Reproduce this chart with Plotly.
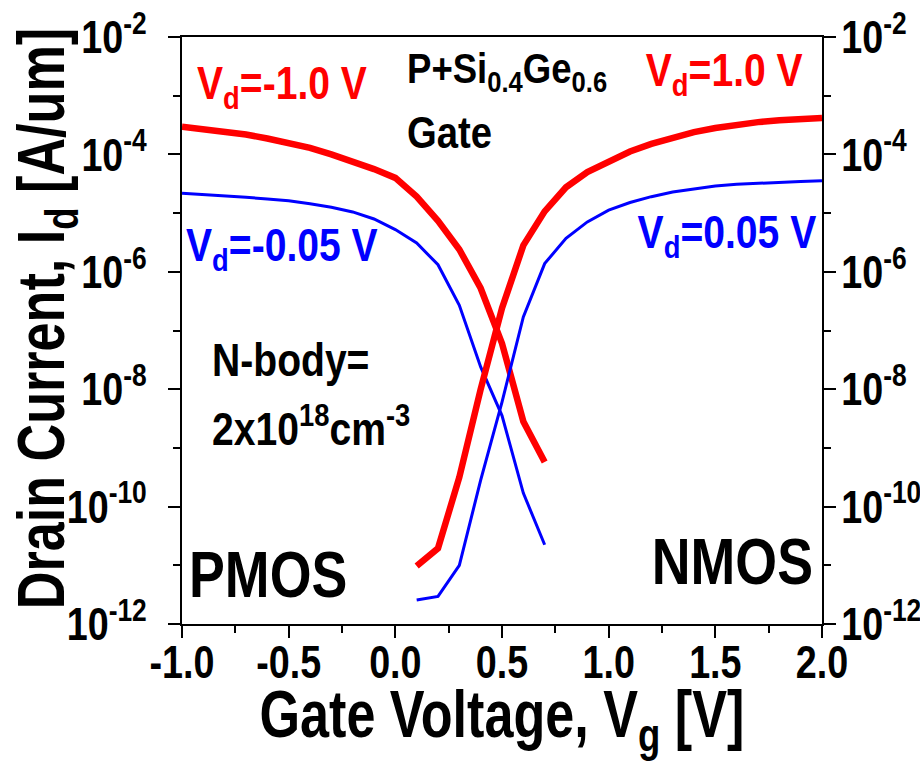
import plotly.graph_objects as go

# Gate voltage grids
vg_p = [-1.0, -0.9, -0.8, -0.7, -0.6, -0.5, -0.4, -0.3, -0.2, -0.1, 0.0, 0.1, 0.2, 0.3, 0.4, 0.5, 0.6, 0.7]
vg_n = [0.1, 0.2, 0.3, 0.4, 0.5, 0.6, 0.7, 0.8, 0.9, 1.0, 1.1, 1.2, 1.3, 1.4, 1.5, 1.6, 1.7, 1.8, 1.9, 2.0]

# log10(Id)
logid_p_vd1 = [-3.53, -3.57, -3.61, -3.66, -3.73, -3.80, -3.89, -4.00, -4.12, -4.25, -4.40, -4.72, -5.13, -5.62, -6.28, -7.22, -8.55, -9.24]
logid_p_vd005 = [-4.66, -4.68, -4.70, -4.73, -4.76, -4.79, -4.84, -4.90, -4.98, -5.10, -5.28, -5.51, -5.88, -6.57, -7.62, -8.45, -9.77, -10.65]
logid_n_vd1 = [-11.01, -10.71, -9.50, -8.00, -6.62, -5.55, -4.97, -4.56, -4.30, -4.12, -3.95, -3.82, -3.71, -3.62, -3.55, -3.49, -3.45, -3.42, -3.40, -3.38]
logid_n_vd005 = [-11.59, -11.53, -11.00, -9.55, -8.22, -6.77, -5.86, -5.43, -5.15, -4.95, -4.82, -4.72, -4.64, -4.59, -4.54, -4.51, -4.49, -4.47, -4.46, -4.45]

id_p_vd1 = [10 ** v for v in logid_p_vd1]
id_p_vd005 = [10 ** v for v in logid_p_vd005]
id_n_vd1 = [10 ** v for v in logid_n_vd1]
id_n_vd005 = [10 ** v for v in logid_n_vd005]

y_tick_vals = [1e-12, 1e-10, 1e-8, 1e-6, 1e-4, 1e-2]
y_tick_text = ["10<sup>-12</sup>", "10<sup>-10</sup>", "10<sup>-8</sup>", "10<sup>-6</sup>", "10<sup>-4</sup>", "10<sup>-2</sup>"]
y_minor_vals = [1e-11, 1e-9, 1e-7, 1e-5, 1e-3]
x_tick_vals = [-1.0, -0.5, 0.0, 0.5, 1.0, 1.5, 2.0]
x_tick_text = ["-1.0", "-0.5", "0.0", "0.5", "1.0", "1.5", "2.0"]

RED = "#ff0000"
BLUE = "#0000ff"
FONT = "Liberation Sans, Arial"

fig = go.Figure()
fig.add_trace(go.Scatter(x=vg_p, y=id_p_vd1, mode="lines", line=dict(color=RED, width=6.5), showlegend=False))
fig.add_trace(go.Scatter(x=vg_p, y=id_p_vd005, mode="lines", line=dict(color=BLUE, width=3), showlegend=False))
fig.add_trace(go.Scatter(x=vg_n, y=id_n_vd1, mode="lines", line=dict(color=RED, width=6.5), showlegend=False, yaxis="y2"))
fig.add_trace(go.Scatter(x=vg_n, y=id_n_vd005, mode="lines", line=dict(color=BLUE, width=3), showlegend=False, yaxis="y2"))

tickfont = dict(family=FONT, size=46, color="black", weight="bold")
yax = dict(type="log", range=[-12, -2], tickvals=y_tick_vals, ticktext=y_tick_text,
           ticks="outside", ticklen=12, tickwidth=2, tickcolor="black",
           showline=True, linewidth=2, linecolor="black", showgrid=False, zeroline=False,
           tickfont=tickfont, automargin=False,
           minor=dict(tickvals=y_minor_vals, ticks="outside", ticklen=7, tickwidth=2, tickcolor="black", showgrid=False))

fig.update_layout(
    width=920, height=770,
    margin=dict(l=182, r=98, t=37, b=146),
    paper_bgcolor="white", plot_bgcolor="white",
    xaxis=dict(range=[-1, 2], tickvals=x_tick_vals, ticktext=x_tick_text,
               ticks="outside", ticklen=12, tickwidth=2, tickcolor="black",
               showline=True, linewidth=2, linecolor="black", mirror=True,
               showgrid=False, zeroline=False, tickfont=tickfont, automargin=False,
               ticklabelstandoff=-15,
               minor=dict(dtick=0.25, ticks="outside", ticklen=7, tickwidth=2, tickcolor="black", showgrid=False)),
    yaxis=dict(**yax, ticklabelstandoff=12),
    yaxis2=dict(**yax, overlaying="y", side="right", ticklabelstandoff=-4),
)

def ann(text, x, y, color, size, squeeze, xanchor="left", xref="x", yref="y", angle=0):
    fig.add_annotation(x=x, y=y, xref=xref, yref=yref, text=text, showarrow=False,
                       xanchor=xanchor, yanchor="middle", textangle=angle, name=str(squeeze),
                       font=dict(family=FONT, size=size, color=color, weight="bold"))

# axis titles
ann("Gate Voltage, V<sub>g</sub> [V]", 0.5, -0.161, "black", 66, 0.79, xanchor="center", xref="paper", yref="paper")
ann("Drain Current, I<sub>d</sub> [A/um]", -0.212, 0.521, "black", 66, 0.79, xanchor="center", xref="paper", yref="paper", angle=-90)

# in-plot labels
ann("V<sub>d</sub>=-1.0 V", -0.94, -2.85, RED, 46, 0.85)
ann("V<sub>d</sub>=1.0 V", 1.92, -2.62, RED, 46, 0.85, xanchor="right")
ann("V<sub>d</sub>=-0.05 V", -0.99, -5.60, BLUE, 46, 0.85)
ann("V<sub>d</sub>=0.05 V", 1.985, -5.38, BLUE, 46, 0.85, xanchor="right")
ann("P+Si<sub>0.4</sub>Ge<sub>0.6</sub>", 0.045, -2.58, "black", 43, 0.85)
ann("Gate", 0.045, -3.63, "black", 45, 0.85)
ann("N-body=", -0.87, -7.50, "black", 46, 0.85)
ann("2x10<sup>18</sup>cm<sup>-3</sup>", -0.87, -8.62, "black", 46, 0.85)
ann("PMOS", -0.975, -11.17, "black", 64, 0.84)
ann("NMOS", 1.968, -10.94, "black", 64, 0.84, xanchor="right")

# Narrow the bold sans text horizontally (reference uses a condensed face)
post = """
document.body.style.margin = '0';
document.body.style.overflow = 'hidden';
var gd = document.getElementById('{plot_id}');
function condense(){
  var items = [];
  gd.querySelectorAll('g.xtick > text, g.ytick > text, g.y2tick > text').forEach(function(t){
    var ta = t.getAttribute('text-anchor');
    items.push([t, 0.82, ta === 'start' ? 'left' : (ta === 'end' ? 'right' : 'mid')]);
  });
  gd.querySelectorAll('g.annotation').forEach(function(g){
    var i = +g.getAttribute('data-index');
    var a = (gd.layout.annotations || [])[i] || {};
    var t = g.querySelector('text.annotation-text');
    var s = parseFloat(a.name) || 0.85;
    if (t) items.push([t, s, (a.textangle ? 'mid' : (a.xanchor || 'mid'))]);
  });
  items.forEach(function(it){
    var t = it[0], s = it[1], anc = it[2];
    var cur = t.getAttribute('transform') || '';
    if (cur.indexOf('scale(') >= 0) return;
    var bb = t.getBBox();
    var px = anc === 'left' ? bb.x : (anc === 'right' ? bb.x + bb.width : bb.x + bb.width / 2);
    t.setAttribute('transform', cur + ' translate(' + px + ',0) scale(' + s + ',1) translate(' + (-px) + ',0)');
  });
}
gd.on('plotly_afterplot', condense);
condense();
setTimeout(condense, 50);
"""

fig.write_html("out.html", post_script=post, config={"displayModeBar": False})
